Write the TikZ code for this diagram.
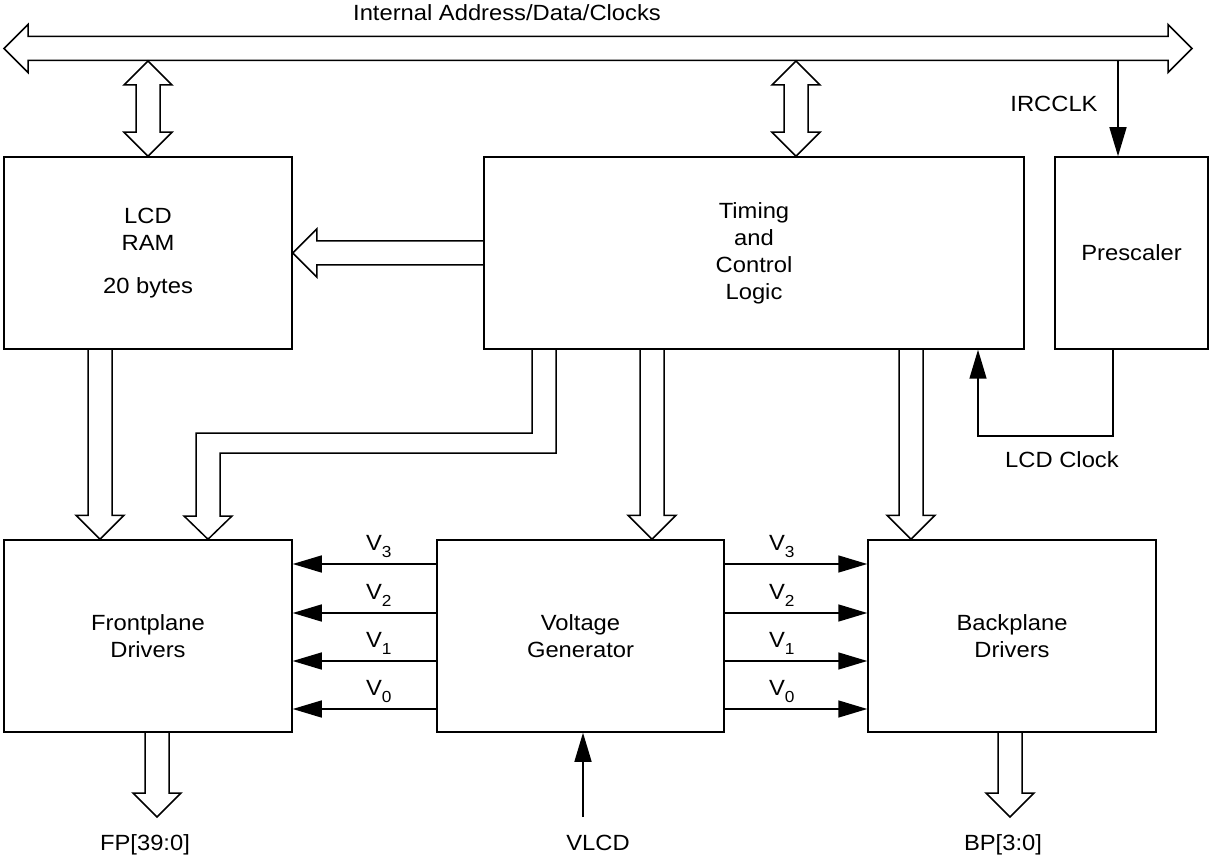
\documentclass[tikz,border=0pt]{standalone}
\usepackage{fontspec}
\setmainfont{Liberation Sans}[FakeStretch=1.08]
\usetikzlibrary{positioning,arrows.meta,calc}

\newcommand{\labfont}{\fontsize{22}{27}\selectfont}
\newcommand{\vsub}[1]{V\raisebox{-6.5pt}{\fontsize{16}{16}\selectfont #1}}
% hollow block arrow, start -> tip
\newcommand{\fatarrow}[2]{%
  \draw[fat] let \p1=#1, \p2=#2, \n1={atan2(\y2-\y1,\x2-\x1)},
    \n2={veclen(\x2-\x1,\y2-\y1)} in [shift={(\p1)},rotate=\n1]
    (0,12) -- ({\n2-24},12) -- ({\n2-24},24) -- (\n2,0)
    -- ({\n2-24},-24) -- ({\n2-24},-12) -- (0,-12);}
% hollow block arrow with a head at each end
\newcommand{\dblarrow}[2]{%
  \draw[fat] let \p1=#1, \p2=#2, \n1={atan2(\y2-\y1,\x2-\x1)},
    \n2={veclen(\x2-\x1,\y2-\y1)} in [shift={(\p1)},rotate=\n1]
    (0,0) -- (24,24) -- (24,12) -- ({\n2-24},12) -- ({\n2-24},24) -- (\n2,0)
    -- ({\n2-24},-24) -- ({\n2-24},-12) -- (24,-12) -- (24,-24) -- cycle;}

\begin{document}
\begin{tikzpicture}[x=1pt,y=-1pt,
  block/.style={draw,line width=1.5pt,inner sep=0pt,align=center,font=\labfont},
  fat/.style={line width=1.5pt,line join=miter},
  sig/.style={line width=1.5pt,-{Triangle[length=29pt,width=17pt]}},
  lab/.style={inner sep=0pt,anchor=base,font=\labfont},
  vlab/.style={inner sep=0pt,above=6pt,font=\labfont}]
\useasboundingbox (0,0) rectangle (1210,858);

\node[block,minimum width=288pt,minimum height=192pt] (ram) at (148,253) {LCD\\RAM\\[16pt]20 bytes};
\node[block,minimum width=540pt,minimum height=192pt] (timing) at (754,253) {Timing\\and\\Control\\Logic};
\node[block,minimum width=153pt,minimum height=192pt] (pre) at (1131.5,253) {Prescaler};
\node[block,minimum width=288pt,minimum height=192pt] (fp) at (148,636) {Frontplane\\Drivers};
\node[block,minimum width=287pt,minimum height=192pt] (vg) at (580.5,636) {Voltage\\Generator};
\node[block,minimum width=288pt,minimum height=192pt] (bp) at (1012,636) {Backplane\\Drivers};

% bus
\coordinate (busL) at (4,48.5);
\coordinate (busR) at (1192,48.5);
\dblarrow{(busL)}{(busR)}
\node[lab] (buslab) at (507,21) {Internal Address/Data/Clocks};
\dblarrow{(148,61)}{(148,0 |- ram.north)}
\dblarrow{(796,61)}{(796,0 |- timing.north)}

% clocks
\coordinate (clkin) at (1118,61);
\draw[sig] (clkin) -- (1118,0 |- pre.north);
\node[lab] (irc) at (1054,112) {IRCCLK};
\draw[sig] ([xshift=-18.5pt]pre.south) |- (978,436) -- (978,0 |- timing.south);
\node[lab] (lcdclk) at (1062,467) {LCD Clock};

% data paths
\fatarrow{(timing.west)}{(ram.east)}
\fatarrow{(100,0 |- ram.south)}{(100,0 |- fp.north)}
\fatarrow{(652,0 |- timing.south)}{(652,0 |- vg.north)}
\fatarrow{(911,0 |- timing.south)}{(911,0 |- bp.north)}
\draw[fat] (532,0 |- timing.south) -- (532,433) -- (196,433) -- (196,516) -- (184,516)
  -- (208,0 |- fp.north) -- (232,516) -- (220,516) -- (220,453) -- (556,453)
  -- (556,0 |- timing.south);

% voltages
\foreach \i/\yy in {3/564,2/613,1/661,0/709} {
  \draw[sig] (vg.west |- 0,\yy) -- (fp.east |- 0,\yy) node[vlab,pos=0.4] (lv\i) {\vsub{\i}};
  \draw[sig] (vg.east |- 0,\yy) -- (bp.west |- 0,\yy) node[vlab,pos=0.4] (rv\i) {\vsub{\i}};
}

% pins
\coordinate (fpout) at (157,817);
\coordinate (bpout) at (1010,817);
\coordinate (vlcd) at (583,817);
\fatarrow{(157,0 |- fp.south)}{(fpout)}
\fatarrow{(1010,0 |- bp.south)}{(bpout)}
\draw[sig] (vlcd) -- (583,0 |- vg.south);
\node[lab] (fplab) at (145,850) {FP[39:0]};
\node[lab] (vlcdlab) at (598,850) {VLCD};
\node[lab] (bplab) at (1003,850) {BP[3:0]};
\end{tikzpicture}
\end{document}
